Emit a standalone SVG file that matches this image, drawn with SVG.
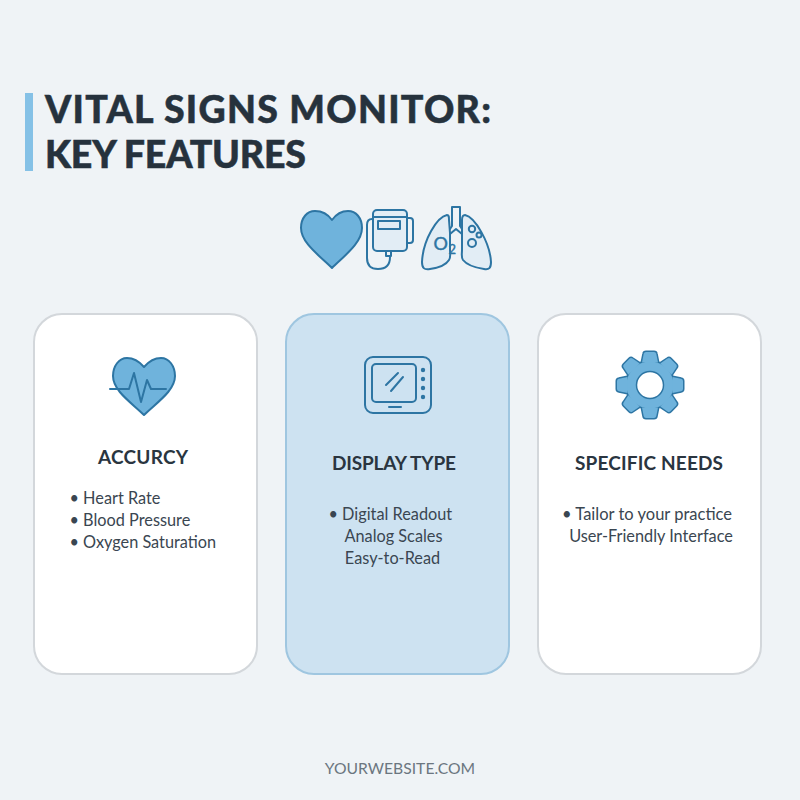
<svg xmlns="http://www.w3.org/2000/svg" xmlns:xlink="http://www.w3.org/1999/xlink" width="800" height="800" viewBox="0 0 800 800">
<style>
text{font-family:"Lato","Liberation Sans",sans-serif}
.title{font-size:37.5px;font-weight:900;fill:#26323d;stroke:#26323d;stroke-width:.5}
.card{fill:#fff;stroke:#d3d7db;stroke-width:2}
.cardb{fill:#cde2f1;stroke:#9fc6e0;stroke-width:2}
.head{font-size:19px;font-weight:700;fill:#2a3540;text-anchor:middle}
.item{font-size:16.3px;fill:#3a4651}
.ic{fill:none;stroke:#2d75a3;stroke-width:2;stroke-linecap:round;stroke-linejoin:round}
.blue{fill:#6fb3dc;stroke:#2d75a3;stroke-width:2;stroke-linejoin:round}
.pale{fill:#e2edf5;stroke:#2d75a3;stroke-width:2;stroke-linejoin:round}
.o2{fill:#2d75a3;stroke:#2d75a3;stroke-width:.4}
</style>
<defs>
<path id="t" d="M22.5 -8L31 -6.3Q33 -6 33 -4V4Q33 6 31 6.3L22.5 8Z"/>
<g id="gear">
<circle cx="0" cy="0" r="23.5"/>
<use href="#t" xlink:href="#t"/>
<use href="#t" xlink:href="#t" transform="rotate(45)"/>
<use href="#t" xlink:href="#t" transform="rotate(90)"/>
<use href="#t" xlink:href="#t" transform="rotate(135)"/>
<use href="#t" xlink:href="#t" transform="rotate(180)"/>
<use href="#t" xlink:href="#t" transform="rotate(225)"/>
<use href="#t" xlink:href="#t" transform="rotate(270)"/>
<use href="#t" xlink:href="#t" transform="rotate(315)"/>
</g>
</defs>
<rect width="800" height="800" fill="#eff3f6"/>
<g id="title">
<rect x="25" y="93" width="8" height="78" fill="#85c1e6"/>
<text class="title" x="45" y="123" textLength="446" lengthAdjust="spacing">VITAL SIGNS MONITOR:</text>
<text class="title" x="45" y="168" textLength="261" lengthAdjust="spacing">KEY FEATURES</text>
</g>
<g id="top-icons">
<path class="blue" d="M332 220C327 213 320 211 315 211C307 211 301 218 301 228C301 243 320 256 332 268C344 256 362 243 362 228C362 218 356 211 348 211C343 211 337 213 332 220Z"/>
<rect class="pale" x="373" y="210" width="34" height="41" rx="4"/>
<path class="ic" d="M373 217H407M407 218H410Q413 218 413 221V240Q413 243 410 243H407M373 219H372Q367 219 367 225V258Q367 269 378 269Q390 269 390 257"/>
<rect class="ic" x="378" y="221" width="22" height="8"/>
<rect class="ic" x="386" y="251" width="5" height="5"/>
<path class="pale" d="M447 215C437 217 423 240 422 262C422 268 424 270 430 269C437 268 446 265 449 260C451 257 450 254 450 250V233L449 220C449 217 449 215 447 215Z"/>
<path class="pale" d="M465 215C463 215 462 217 462 220V250C462 254 461 257 463 260C467 265 477 268 484 269C489 270 491 268 491 262C490 243 475 217 465 215Z"/>
<path class="ic" d="M450 229L452 226V207H460V226L462 229M450 234L456 229L462 234"/>
<text class="o2" x="433.5" y="250" font-size="18">O</text>
<text class="o2" x="448.5" y="254" font-size="13">2</text>
<circle class="ic" cx="472" cy="229" r="3.2"/>
<circle class="ic" cx="479" cy="235" r="2.5"/>
<circle class="ic" cx="472" cy="243" r="4"/>
</g>
<g id="card-accuracy">
<rect class="card" x="34" y="314" width="223" height="360" rx="28"/>
<path class="blue" d="M144 367C138 360 131 358 127 358C119 358 113 366 113 376C113 391 132 403 144 415C156 403 175 391 175 376C175 366 169 358 161 358C157 358 150 360 144 367Z"/>
<path class="ic" d="M110 389H129L134 373L141 402L147 380L151 389H166"/>
<text class="head" x="143" y="464" textLength="90" lengthAdjust="spacing">ACCURCY</text>
<text class="item" x="69.5" y="504">• Heart Rate</text>
<text class="item" x="69.5" y="526">• Blood Pressure</text>
<text class="item" x="69.5" y="548">• Oxygen Saturation</text>
</g>
<g id="card-display">
<rect class="cardb" x="286" y="314" width="223" height="360" rx="28"/>
<rect class="ic" x="365" y="357" width="66" height="56" rx="8"/>
<rect class="ic" x="372" y="364" width="44" height="38" rx="4"/>
<path class="ic" d="M386 385L398 373M391 391L403 377M389 407H401"/>
<g fill="#2d75a3"><circle cx="423" cy="370" r="2.2"/><circle cx="423" cy="379" r="2.2"/><circle cx="423" cy="388" r="2.2"/><circle cx="423" cy="397" r="2.2"/></g>
<text class="head" x="394" y="470" textLength="124" lengthAdjust="spacing">DISPLAY TYPE</text>
<text class="item" x="328.5" y="520">• Digital Readout</text>
<text class="item" x="393.5" y="542" text-anchor="middle">Analog Scales</text>
<text class="item" x="392.5" y="564" text-anchor="middle">Easy-to-Read</text>
</g>
<g id="card-needs">
<rect class="card" x="538" y="314" width="223" height="360" rx="28"/>
<use href="#gear" xlink:href="#gear" transform="translate(650 385)" fill="#2d75a3" stroke="#2d75a3" stroke-width="3" stroke-linejoin="round"/>
<use href="#gear" xlink:href="#gear" transform="translate(650 385)" fill="#6fb3dc"/>
<circle cx="650" cy="385" r="13.5" fill="#fff" stroke="#2d75a3" stroke-width="1.5"/>
<text class="head" x="649" y="470" textLength="148" lengthAdjust="spacing">SPECIFIC NEEDS</text>
<text class="item" x="562" y="520" style="font-size:16.5px">• Tailor to your practice</text>
<text class="item" x="651" y="542" text-anchor="middle">User-Friendly Interface</text>
</g>
<g id="footer"><text x="400" y="774" font-size="15.7" fill="#6b7680" text-anchor="middle">YOURWEBSITE.COM</text></g>
<g id="connectors"/>
</svg>
